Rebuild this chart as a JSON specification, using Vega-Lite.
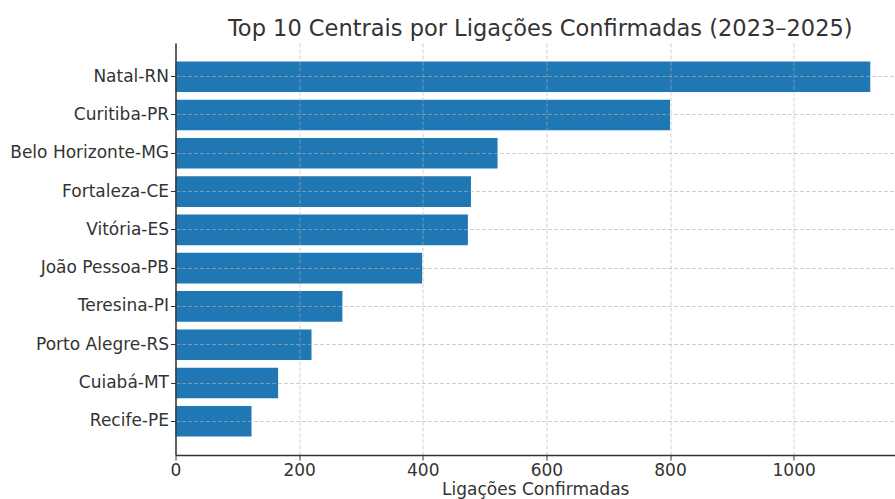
{
  "$schema": "https://vega.github.io/schema/vega-lite/v6.json",
  "autosize": {"type": "none"},
  "padding": {"left": 175.5, "top": 43, "right": 0, "bottom": 44},
  "width": 719.5,
  "height": 412,
  "background": "white",
  "title": {
    "text": "Top 10 Centrais por Ligações Confirmadas (2023–2025)",
    "font": "DejaVu Sans",
    "fontSize": 22.5,
    "fontWeight": "normal",
    "color": "#333333",
    "anchor": "middle",
    "dx": 5,
    "offset": 3
  },
  "config": {
    "view": {"stroke": null},
    "font": "DejaVu Sans"
  },
  "data": {
    "values": [
      {"central": "Natal-RN", "ligacoes": 1124},
      {"central": "Curitiba-PR", "ligacoes": 800},
      {"central": "Belo Horizonte-MG", "ligacoes": 521},
      {"central": "Fortaleza-CE", "ligacoes": 478},
      {"central": "Vitória-ES", "ligacoes": 473},
      {"central": "João Pessoa-PB", "ligacoes": 399},
      {"central": "Teresina-PI", "ligacoes": 270},
      {"central": "Porto Alegre-RS", "ligacoes": 220},
      {"central": "Cuiabá-MT", "ligacoes": 166},
      {"central": "Recife-PE", "ligacoes": 123}
    ]
  },
  "mark": {"type": "bar", "color": "#1f77b4"},
  "encoding": {
    "y": {
      "field": "central",
      "type": "nominal",
      "sort": "-x",
      "scale": {"paddingInner": 0.2, "paddingOuter": 0.48},
      "axis": {
        "title": null,
        "bandPosition": 0.5,
        "labelFont": "DejaVu Sans",
        "labelFontSize": 17,
        "labelColor": "#333333",
        "labelPadding": 2,
        "tickSize": 5,
        "tickColor": "#333333",
        "domainColor": "#333333",
        "domainWidth": 1.5,
        "grid": true,
        "gridColor": "#b0b0b0",
        "gridOpacity": 0.6,
        "gridDash": [4, 2],
        "zindex": 1
      }
    },
    "x": {
      "field": "ligacoes",
      "type": "quantitative",
      "scale": {"domain": [0, 1164], "nice": false},
      "axis": {
        "title": "Ligações Confirmadas",
        "titleFont": "DejaVu Sans",
        "titleFontSize": 17,
        "titleFontWeight": "normal",
        "titleColor": "#333333",
        "titlePadding": 3,
        "values": [0, 200, 400, 600, 800, 1000],
        "format": "d",
        "labelFont": "DejaVu Sans",
        "labelFontSize": 17,
        "labelColor": "#333333",
        "labelPadding": 2,
        "labelFlush": false,
        "tickSize": 5,
        "tickColor": "#333333",
        "domainColor": "#333333",
        "domainWidth": 1.5,
        "grid": true,
        "gridColor": "#b0b0b0",
        "gridOpacity": 0.6,
        "gridDash": [4, 2],
        "zindex": 1
      }
    }
  }
}
